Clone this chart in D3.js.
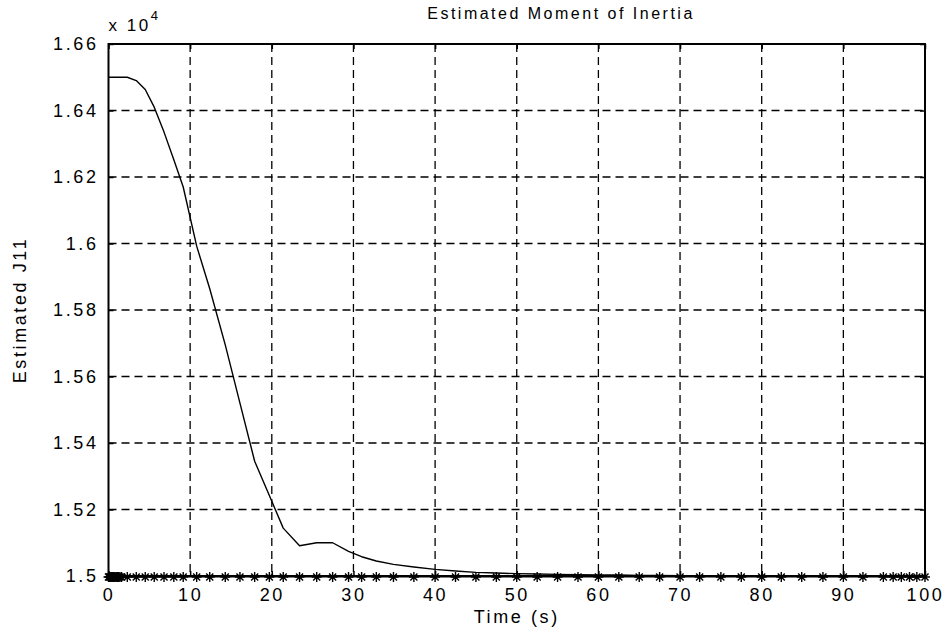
<!DOCTYPE html>
<html>
<head>
<meta charset="utf-8">
<script src="https://cdn.jsdelivr.net/npm/d3@7"></script>
<style>
  html, body { margin: 0; padding: 0; background: #fff; }
  svg { display: block; }
  text { font-family: "Liberation Sans", Arial, sans-serif; fill: #000; }
</style>
</head>
<body>
<svg id="chart" width="948" height="634"></svg>
<script>
// Solver output times (s); both series share them
const timeS = [0, 0.1, 0.2, 0.3, 0.4, 0.5, 0.6, 0.7, 0.8, 0.95, 1.1, 1.25, 1.4, 1.6,
  2.3, 3.4, 4.5, 5.6, 6.8, 8.0, 9.15, 10.8, 12.4, 14.3, 16.1, 17.9, 19.7, 21.4, 23.4,
  25.5, 27.45, 29.4, 31.0, 32.8, 34.9, 37.4, 40.0, 42.5, 45.0, 47.5, 50.0, 52.5, 55.0,
  57.5, 60.0, 62.5, 65.0, 67.5, 70.0, 72.4, 75.0, 77.5, 80.0, 82.4, 84.9, 87.5, 90.0,
  92.4, 94.9, 96.1, 97.1, 98.1, 99.0, 100];

// Estimated J11 (kg·m²)
const estimatedJ11 = [16500, 16500, 16500, 16500, 16500, 16500, 16500, 16500, 16500,
  16500, 16500, 16500, 16500, 16500,
  16500, 16490, 16463, 16410, 16335, 16252, 16170, 15992, 15864, 15695, 15520, 15345,
  15242, 15144, 15091, 15100, 15100, 15074, 15058, 15045, 15035, 15027, 15020, 15015,
  15011, 15009, 15007, 15006, 15005, 15004, 15003, 15003, 15002, 15002, 15001, 15001,
  15000, 15000, 15000, 15000, 15000, 15000, 15000, 15000, 15000, 15000, 15000, 15000,
  15000, 15000];

// True J11 (kg·m²), constant
const trueJ11 = timeS.map(() => 15000);

const xTicks = [0, 10, 20, 30, 40, 50, 60, 70, 80, 90, 100];
const yTicks = [15000, 15200, 15400, 15600, 15800, 16000, 16200, 16400, 16600];
const yTickLabels = ["1.5", "1.52", "1.54", "1.56", "1.58", "1.6", "1.62", "1.64", "1.66"];

const titleText = "Estimated Moment of Inertia";
const xLabelText = "Time (s)";
const yLabelText = "Estimated J11";

const svg = d3.select("#chart");
const plotL = 108.5, plotR = 925, plotT = 44, plotB = 576;

const x = d3.scaleLinear().domain([0, 100]).range([plotL, plotR]);
const y = d3.scaleLinear().domain([15000, 16600]).range([plotB, plotT]);

// dashed grid
const grid = svg.append("g").attr("stroke", "#000").attr("stroke-width", 1.3)
  .attr("stroke-dasharray", "8,5");
grid.selectAll("line.vx").data(xTicks.slice(1, -1)).join("line")
  .attr("x1", d => x(d)).attr("x2", d => x(d)).attr("y1", plotT).attr("y2", plotB);
grid.selectAll("line.hy").data(yTicks.slice(1, -1)).join("line")
  .attr("x1", plotL).attr("x2", plotR).attr("y1", d => y(d)).attr("y2", d => y(d));

// axes with inward ticks on all four sides
const tickLen = 5;
const fmt = d => yTickLabels[yTicks.indexOf(d)];
const axB = svg.append("g").attr("transform", `translate(0,${plotB})`)
  .call(d3.axisBottom(x).tickValues(xTicks).tickSize(-tickLen).tickPadding(12));
const axT = svg.append("g").attr("transform", `translate(0,${plotT})`)
  .call(d3.axisTop(x).tickValues(xTicks).tickSize(-tickLen).tickFormat(""));
const axL = svg.append("g").attr("transform", `translate(${plotL},0)`)
  .call(d3.axisLeft(y).tickValues(yTicks).tickSize(-tickLen).tickPadding(10).tickFormat(fmt));
const axR = svg.append("g").attr("transform", `translate(${plotR},0)`)
  .call(d3.axisRight(y).tickValues(yTicks).tickSize(-tickLen).tickFormat(""));
[axB, axT, axL, axR].forEach(a => {
  a.select(".domain").remove();
  a.selectAll(".tick line").attr("stroke", "#000").attr("stroke-width", 1.5);
  a.selectAll("text").attr("font-size", 18).attr("letter-spacing", 2.6)
    .style("font-family", '"Liberation Sans", Arial, sans-serif');
});
axB.selectAll("text").attr("dy", "0.71em");

// true value: line with star markers
const starPath = (() => {
  const r = 5, p = d3.path();
  for (let k = 0; k < 4; k++) {
    const a = k * Math.PI / 4;
    p.moveTo(-r * Math.cos(a), -r * Math.sin(a));
    p.lineTo(r * Math.cos(a), r * Math.sin(a));
  }
  return p.toString();
})();
svg.append("path").datum(timeS.map((t, i) => [t, trueJ11[i]]))
  .attr("fill", "none").attr("stroke", "#000").attr("stroke-width", 2)
  .attr("d", d3.line().x(d => x(d[0])).y(d => y(d[1]) + 0.5));
svg.append("g").selectAll("path").data(timeS).join("path")
  .attr("transform", (d, i) => `translate(${x(d)},${y(trueJ11[i]) + 1})`)
  .attr("d", starPath).attr("stroke", "#000").attr("stroke-width", 1.4).attr("fill", "none");

// estimate curve
svg.append("path").datum(timeS.map((t, i) => [t, estimatedJ11[i]]))
  .attr("fill", "none").attr("stroke", "#000").attr("stroke-width", 1.4)
  .attr("stroke-linejoin", "round")
  .attr("d", d3.line().x(d => x(d[0])).y(d => y(d[1])));

// axes box
svg.append("rect").attr("x", plotL).attr("y", plotT).attr("width", plotR - plotL)
  .attr("height", plotB - plotT).attr("fill", "none").attr("stroke", "#000").attr("stroke-width", 2);

// exponent multiplier
const ex = svg.append("text").attr("x", plotL).attr("y", 31).attr("font-size", 17)
  .attr("letter-spacing", 2.5);
ex.append("tspan").text("x 10");
ex.append("tspan").attr("dy", -11).attr("font-size", 13).text("4");

// title and axis labels
svg.append("text").attr("x", 561).attr("y", 19)
  .attr("text-anchor", "middle").attr("font-size", 16).attr("letter-spacing", 2.5)
  .text(titleText);
svg.append("text").attr("x", (plotL + plotR) / 2).attr("y", 623)
  .attr("text-anchor", "middle").attr("font-size", 18).attr("letter-spacing", 2.6)
  .text(xLabelText);
svg.append("text").attr("transform", `translate(26,${(plotT + plotB) / 2}) rotate(-90)`)
  .attr("text-anchor", "middle").attr("font-size", 18).attr("letter-spacing", 2.6)
  .text(yLabelText);
</script>
</body>
</html>
